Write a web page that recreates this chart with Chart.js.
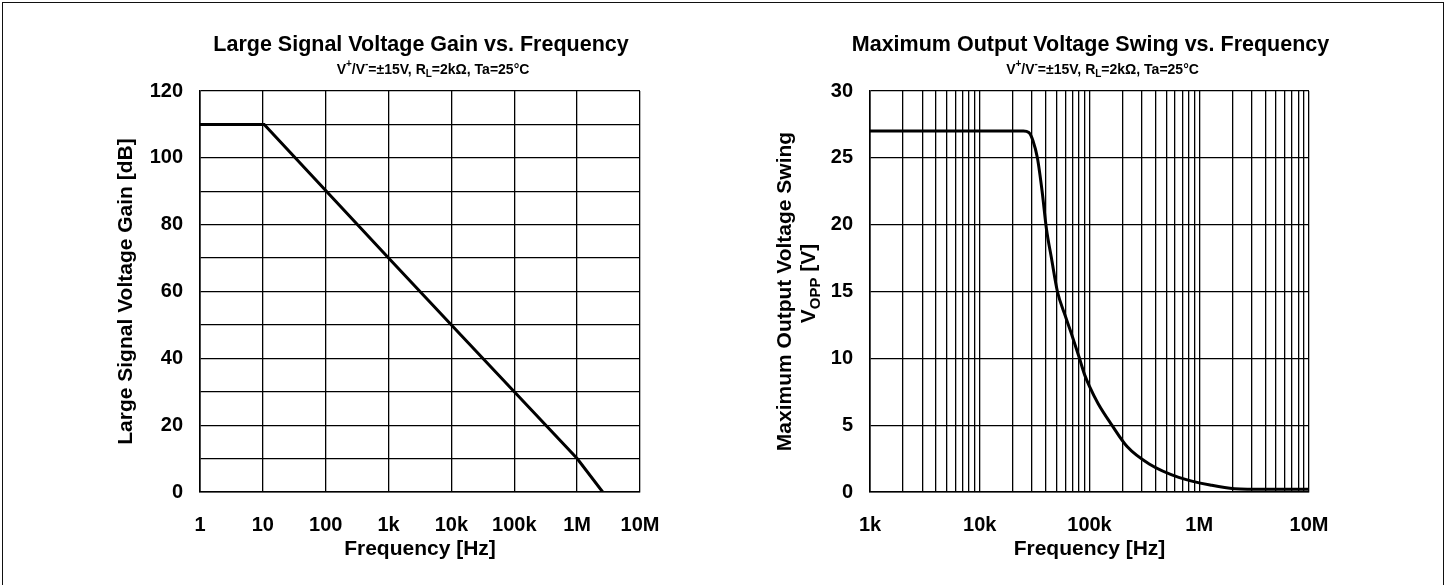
<!DOCTYPE html>
<html>
<head>
<meta charset="utf-8">
<script src="https://cdn.jsdelivr.net/npm/chart.js@4.4.1/dist/chart.umd.min.js"></script>
<style>
  html, body { margin: 0; padding: 0; background: #fff; }
  body { width: 1450px; height: 585px; position: relative; overflow: hidden; }
  .frame { position: absolute; left: 2px; top: 2px; width: 1440px; height: 700px; border: 1.5px solid #111; }
  .box { position: absolute; top: 0; width: 725px; height: 585px; }
  #boxGain { left: 0; }
  #boxSwing { left: 725px; }
</style>
</head>
<body>
<div class="frame"></div>
<div class="box" id="boxGain"><canvas id="chartGain"></canvas></div>
<div class="box" id="boxSwing"><canvas id="chartSwing"></canvas></div>
<script>
// ─── data ────────────────────────────────────────────────────────────────────
const gainFreq = [1, 10.5, 1000, 10000, 100000, 1000000, 2550000];
const gainDb   = [110, 110, 70, 50, 30, 10, 0];

const swingFreq = [1000, 10000, 25000, 28000, 30500, 33500, 37000, 40500, 45000, 51000, 60000, 70000,
                   81000, 90000, 100000, 120000, 160000, 220000, 350000, 650000, 1300000, 2100000, 4000000, 10000000];
const swingVpp  = [27, 27, 27, 26.9, 26.3, 25, 22.5, 19.7, 17.5, 15, 13.2, 11.6,
                   10, 8.8, 7.9, 6.6, 5, 3.4, 2.1, 1.1, 0.5, 0.25, 0.2, 0.2];

const gainTickVals   = [1, 10, 100, 1000, 10000, 100000, 1000000, 10000000];
const gainTickLabels = ['1', '10', '100', '1k', '10k', '100k', '1M', '10M'];
const swingTickVals   = [1000, 10000, 100000, 1000000, 10000000];
const swingTickLabels = ['1k', '10k', '100k', '1M', '10M'];

const FONT = '"Liberation Sans", Arial, Helvetica, sans-serif';
const BOLD = (size) => ({ family: FONT, size, weight: 'bold' });

// titles; sup/sub pieces drawn by hand
const condSegs = [
  { t: 'V' }, { t: '+', sup: 1 }, { t: '/V' }, { t: '-', sup: 1 },
  { t: '=±15V, R' }, { t: 'L', sub: 1 }, { t: '=2kΩ, Ta=25°C' },
];
const gainTitle  = [{ t: 'Large Signal Voltage Gain vs. Frequency' }];
const swingTitle = [{ t: 'Maximum Output Voltage Swing vs. Frequency' }];
const swingYTitle1 = [{ t: 'Maximum Output Voltage Swing' }];
const swingYTitle2 = [{ t: 'V' }, { t: 'OPP', sub: 1 }, { t: ' [V]' }];

function drawRich(ctx, segs, cx, cy, size) {
  const base = `bold ${size}px ${FONT}`;
  const small = `bold ${Math.round(size * 0.72)}px ${FONT}`;
  let w = 0;
  const widths = segs.map(s => {
    ctx.font = (s.sub || s.sup) ? small : base;
    const m = ctx.measureText(s.t).width;
    w += m;
    return m;
  });
  let x = cx - w / 2;
  ctx.textAlign = 'left';
  ctx.textBaseline = 'middle';
  ctx.fillStyle = '#000';
  segs.forEach((s, i) => {
    ctx.font = (s.sub || s.sup) ? small : base;
    const dy = s.sub ? size * 0.32 : s.sup ? -size * 0.38 : 0;
    ctx.fillText(s.t, x, cy + dy);
    x += widths[i];
  });
}

function headerPlugin(titleSegs) {
  return {
    id: 'header',
    afterDraw(chart) {
      const { ctx, chartArea } = chart;
      const cx = (chartArea.left + chartArea.right) / 2;
      ctx.save();
      drawRich(ctx, titleSegs, cx + 1, 45, 21.5);
      drawRich(ctx, condSegs, cx + 13, 70, 14);
      ctx.restore();
    },
  };
}

const swingYTitlePlugin = {
  id: 'swingYTitle',
  afterDraw(chart) {
    const { ctx, chartArea } = chart;
    const cy = (chartArea.top + chartArea.bottom) / 2;
    ctx.save();
    ctx.translate(60, cy);
    ctx.rotate(-Math.PI / 2);
    drawRich(ctx, swingYTitle1, 0, 0, 21);
    ctx.restore();
    ctx.save();
    ctx.translate(84, cy);
    ctx.rotate(-Math.PI / 2);
    drawRich(ctx, swingYTitle2, 8, 0, 21);
    ctx.restore();
  },
};

const gridLine = { color: '#000', lineWidth: 1.3, drawTicks: false };
const axisBorder = { color: '#000', width: 1.6 };

function labelFor(vals, labels) {
  return v => {
    const i = vals.findIndex(t => Math.abs(t - v) / t < 1e-6);
    return i >= 0 ? labels[i] : '';
  };
}

// ─── 1. Large signal voltage gain ────────────────────────────────────────────
new Chart(document.getElementById('chartGain'), {
  type: 'line',
  data: {
    datasets: [{
      data: gainFreq.map((f, i) => ({ x: f, y: gainDb[i] })),
      borderColor: '#000', borderWidth: 3, pointRadius: 0, tension: 0, fill: false,
    }],
  },
  options: {
    responsive: true, maintainAspectRatio: false, animation: false,
    layout: { padding: { left: 0, right: 85, top: 91, bottom: 0 } },
    plugins: { legend: { display: false }, tooltip: { enabled: false } },
    scales: {
      x: {
        type: 'logarithmic', min: 1, max: 10000000,
        afterBuildTicks: s => { s.ticks = gainTickVals.map(v => ({ value: v })); },
        afterFit: s => { s.height = 93; },
        grid: gridLine, border: axisBorder,
        ticks: { color: '#000', font: BOLD(20), padding: 21, maxRotation: 0, autoSkip: false,
                 callback: labelFor(gainTickVals, gainTickLabels) },
        title: { display: true, text: 'Frequency [Hz]', color: '#000', font: BOLD(21), padding: { top: 0, bottom: 23 } },
      },
      y: {
        min: 0, max: 120,
        afterFit: s => { s.width = 200; },
        grid: gridLine, border: axisBorder,
        ticks: { stepSize: 10, color: '#000', font: BOLD(20), padding: 17,
                 callback: v => (v % 20 === 0 ? v : '') },
        title: { display: true, text: 'Large Signal Voltage Gain [dB]', color: '#000', font: BOLD(21), padding: { top: 114, bottom: 0 } },
      },
    },
  },
  plugins: [headerPlugin(gainTitle)],
});

// ─── 2. Maximum output voltage swing ─────────────────────────────────────────
const swingGrid = [];
swingTickVals.slice(0, -1).forEach(d => { for (let m = 1; m < 10; m++) swingGrid.push(d * m); });
swingGrid.push(10000000);

new Chart(document.getElementById('chartSwing'), {
  type: 'line',
  data: {
    datasets: [{
      data: swingFreq.map((f, i) => ({ x: f, y: swingVpp[i] })),
      borderColor: '#000', borderWidth: 3, pointRadius: 0, cubicInterpolationMode: 'monotone', fill: false,
    }],
  },
  options: {
    responsive: true, maintainAspectRatio: false, animation: false,
    layout: { padding: { left: 0, right: 141, top: 91, bottom: 0 } },
    plugins: { legend: { display: false }, tooltip: { enabled: false } },
    scales: {
      x: {
        type: 'logarithmic', min: 1000, max: 10000000,
        afterBuildTicks: s => { s.ticks = swingGrid.map(v => ({ value: v })); },
        afterFit: s => { s.height = 93; },
        grid: gridLine, border: axisBorder,
        ticks: { color: '#000', font: BOLD(20), padding: 21, maxRotation: 0, autoSkip: false,
                 callback: labelFor(swingTickVals, swingTickLabels) },
        title: { display: true, text: 'Frequency [Hz]', color: '#000', font: BOLD(21), padding: { top: 0, bottom: 23 } },
      },
      y: {
        min: 0, max: 30,
        afterFit: s => { s.width = 145; },
        grid: gridLine, border: axisBorder,
        ticks: { stepSize: 5, color: '#000', font: BOLD(20), padding: 17 },
        title: { display: false },
      },
    },
  },
  plugins: [headerPlugin(swingTitle), swingYTitlePlugin],
});
</script>
</body>
</html>
